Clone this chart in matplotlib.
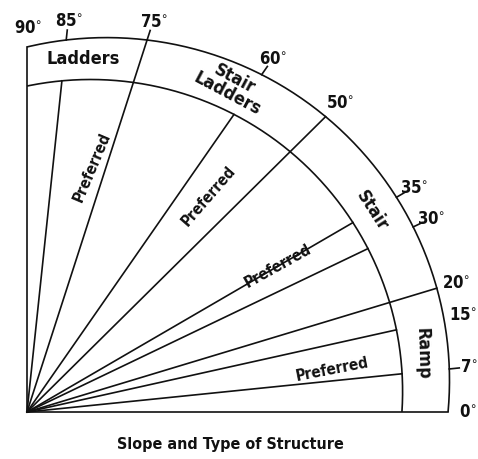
import numpy as np
import matplotlib.pyplot as plt

# slope angles (degrees) marked round the arc
angle_labels = [0, 7, 15, 20, 30, 35, 50, 60, 75, 85, 90]
rays_to_outer = [0, 20, 50, 75, 90]
rays_to_inner = [7, 15, 30, 35, 60, 85]
tick_angles = [7, 30, 35, 60, 75, 85]

# type of structure bands
band_names = ["Ramp", "Stair", "Stair\nLadders", "Ladders"]
band_lo = [0, 20, 50, 75]
band_hi = [20, 50, 75, 90]

# preferred range inside each band
preferred_lo = [7, 30, 50, 75]
preferred_hi = [15, 35, 60, 85]

title = "Slope and Type of Structure"

# the sketch is drawn slightly squashed, arcs are off-centre circles
K = 0.83
OUTER_C, OUTER_R = np.array([79.6, 31.5]), 342.9
INNER_C, INNER_R = np.array([63.6, 20.5]), 312.0
INK = "#111111"
FONT = dict(family="DejaVu Sans", stretch="condensed", weight="bold", color=INK)


def direction(a):
    t = np.radians(a)
    phi = np.arctan2(K * np.sin(t), np.cos(t))
    return np.array([np.cos(phi), np.sin(phi)])


def reach(a, c, r):
    d = direction(a)
    dc = d @ c
    return dc + np.sqrt(dc ** 2 - c @ c + r ** 2)


def arc(c, r, n=200):
    p0 = direction(0) * reach(0, c, r) - c
    p1 = direction(90) * reach(90, c, r) - c
    t = np.linspace(np.arctan2(p0[1], p0[0]), np.arctan2(p1[1], p1[0]), n)
    return c[0] + r * np.cos(t), c[1] + r * np.sin(t)


fig = plt.figure(figsize=(4.78, 4.59), dpi=100)
ax = fig.add_axes([0, 0, 1, 1])
ax.set_xlim(-27, 451)
ax.set_ylim(-47, 412)
ax.axis("off")

lw = 1.2
for c, r in [(OUTER_C, OUTER_R), (INNER_C, INNER_R)]:
    x, y = arc(c, r)
    ax.plot(x, y, color=INK, lw=lw, solid_capstyle="butt")

for a in rays_to_outer:
    end = direction(a) * reach(a, OUTER_C, OUTER_R)
    ax.plot([0, end[0]], [0, end[1]], color=INK, lw=lw)
for a in rays_to_inner:
    end = direction(a) * reach(a, INNER_C, INNER_R)
    ax.plot([0, end[0]], [0, end[1]], color=INK, lw=lw)

for a in tick_angles:
    d = direction(a)
    r0 = reach(a, OUTER_C, OUTER_R)
    ax.plot([d[0] * r0, d[0] * (r0 + 10)], [d[1] * r0, d[1] * (r0 + 10)], color=INK, lw=lw)

for a in angle_labels:
    p = direction(a) * (reach(a, OUTER_C, OUTER_R) + 19)
    ax.text(p[0] + 1, p[1], f"{a}$^{{\\circ}}$", ha="center", va="center", fontsize=12, **FONT)

band_rot = [-88, -57, -28, 0]
band_pos = [0.45, 0.45, 0.5, 0.5]   # share of the way from inner to outer arc
for name, lo, hi, rot, w in zip(band_names, band_lo, band_hi, band_rot, band_pos):
    m = (lo + hi) / 2
    r = (1 - w) * reach(m, INNER_C, INNER_R) + w * reach(m, OUTER_C, OUTER_R)
    p = direction(m) * r
    ax.text(p[0], p[1], name, ha="center", va="center", rotation=rot,
            fontsize=13, linespacing=0.9, **FONT)

pref_rot = [11, 29, 49, 67]
pref_pos = [0.815, 0.77, 0.77, 0.74]
pref_turn = [-1.5, 2.5, 0, -2.5]
for lo, hi, rot, f, dt in zip(preferred_lo, preferred_hi, pref_rot, pref_pos, pref_turn):
    m = (lo + hi) / 2 + dt
    p = direction(m) * reach(m, INNER_C, INNER_R) * f
    ax.text(p[0], p[1], "Preferred", ha="center", va="center", rotation=rot,
            fontsize=11, **FONT)

ax.text(203, -33, title, ha="center", va="center", fontsize=11.5, **FONT)

fig.savefig("out.png", dpi=100)
